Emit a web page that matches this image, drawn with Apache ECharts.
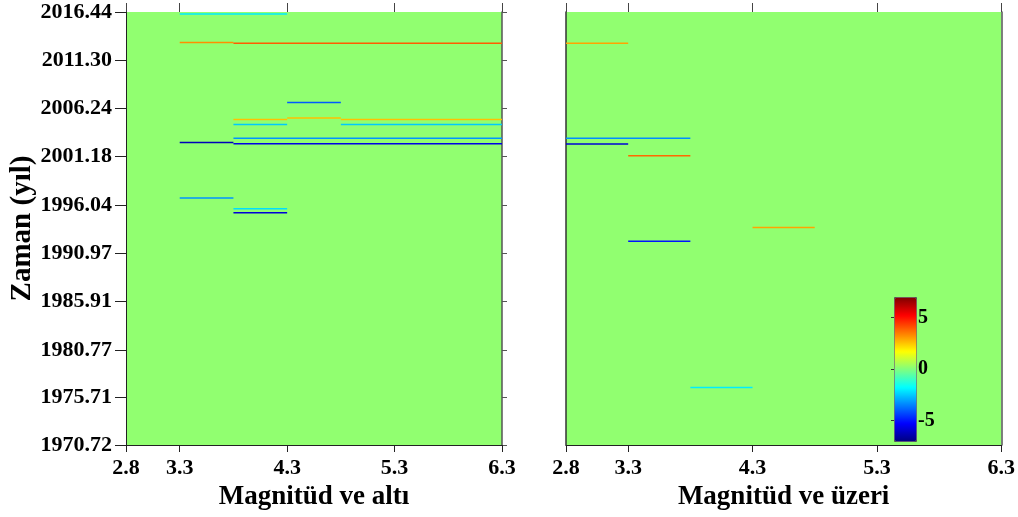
<!DOCTYPE html>
<html>
<head>
<meta charset="utf-8">
<script src="https://cdn.jsdelivr.net/npm/echarts@6/dist/echarts.min.js"></script>
<style>html,body{margin:0;padding:0;background:#fff}#c{width:1018px;height:517px}</style>
</head>
<body>
<div id="c"></div>
<script>
// ---- data ----
const xTicks = [2.8, 3.3, 4.3, 5.3, 6.3];
const yTicks = [1970.72, 1975.71, 1980.77, 1985.91, 1990.97, 1996.04, 2001.18, 2006.24, 2011.30, 2016.44];
const colorbarTicks = [-5, 0, 5];

// left panel: "Magnitüd ve altı"
const leftMagStart = [3.3, 3.3, 3.8, 4.3, 3.8, 4.3, 4.8, 3.8, 4.8, 3.8, 3.3, 3.8, 3.3, 3.8, 3.8];
const leftMagEnd   = [4.3, 3.8, 6.3, 4.8, 4.3, 4.8, 6.3, 4.3, 6.3, 6.3, 3.8, 6.3, 3.8, 4.3, 4.3];
const leftYear     = [2016.23, 2013.23, 2013.13, 2006.88, 2005.08, 2005.25, 2005.08, 2004.56, 2004.56, 2003.11, 2002.65, 2002.54, 1996.79, 1995.66, 1995.24];
const leftValue    = [-2.0, 3.3, 4.0, -4.0, 2.6, 2.6, 2.6, -2.5, -2.5, -3.2, -6.2, -5.6, -3.2, -2.2, -5.8];

// right panel: "Magnitüd ve üzeri"
const rightMagStart = [2.8, 2.8, 2.8, 3.3, 3.3, 4.3, 3.8];
const rightMagEnd   = [3.3, 3.8, 3.3, 3.8, 3.8, 4.8, 4.3];
const rightYear     = [2013.13, 2003.11, 2002.50, 2001.27, 1992.24, 1993.69, 1976.78];
const rightValue    = [3.0, -3.3, -5.8, 3.8, -5.0, 3.0, -2.0];

const cMin = -7, cMax = 7;

// ---- build ----
function rows(a, b, y, v) { return a.map((_, i) => [a[i], b[i], y[i], v[i]]); }
const FONT = 'Liberation Serif';
const lab = { fontFamily: FONT, fontWeight: 'bold', fontSize: 22, color: '#000' };
const jet = ['#00007F', '#0000FF', '#007FFF', '#00FFFF', '#7FFF7F', '#FFFF00', '#FF7F00', '#FF0000', '#7F0000'];

function renderSeg(params, api) {
  const p0 = api.coord([api.value(0), api.value(2)]);
  const p1 = api.coord([api.value(1), api.value(2)]);
  return { type: 'line', shape: { x1: p0[0], y1: p0[1], x2: p1[0], y2: p1[1] },
           style: { stroke: api.visual('color'), lineWidth: 1.5 } };
}

function bottomX(gi, name) {
  return { type: 'value', gridIndex: gi, position: 'bottom', min: 2.8, max: 6.3,
    name: name, nameLocation: 'middle', nameGap: 37,
    nameTextStyle: { fontFamily: FONT, fontWeight: 'bold', fontSize: 27, color: '#000' },
    axisLine: { show: true, onZero: false, lineStyle: { color: '#222', width: 1 } },
    axisTick: { show: true, length: 7, customValues: xTicks, lineStyle: { color: '#222' } },
    axisLabel: Object.assign({ customValues: xTicks, margin: 12, formatter: v => v.toFixed(1) }, lab),
    splitLine: { show: false } };
}
function topX(gi) {
  return { type: 'value', gridIndex: gi, position: 'top', min: 2.8, max: 6.3,
    axisLine: { show: false },
    axisTick: { show: true, length: 9, customValues: xTicks, lineStyle: { color: '#444' } },
    axisLabel: { show: false }, splitLine: { show: false } };
}

const option = {
  backgroundColor: '#fff',
  animation: false,
  grid: [
    { left: 126, top: 12, width: 376, height: 433, show: true, backgroundColor: '#91FF70', borderWidth: 0 },
    { left: 566, top: 12, width: 437, height: 433, show: true, backgroundColor: '#91FF70', borderWidth: 0 },
    { left: 894, top: 297, width: 22, height: 144 }
  ],
  xAxis: [
    bottomX(0, 'Magnitüd ve altı'),
    bottomX(1, 'Magnitüd ve üzeri'),
    topX(0), topX(1),
    { type: 'value', gridIndex: 2, show: false, min: 0, max: 1 }
  ],
  yAxis: [
    { type: 'value', gridIndex: 0, position: 'left', min: 1970.72, max: 2016.44,
      name: 'Zaman (yıl)', nameLocation: 'middle', nameGap: 89, nameRotate: 90,
      nameTextStyle: { fontFamily: FONT, fontWeight: 'bold', fontSize: 29, color: '#000' },
      axisLine: { show: true, onZero: false, lineStyle: { color: '#222' } },
      axisTick: { show: true, length: 11, customValues: yTicks, lineStyle: { color: '#222' } },
      axisLabel: Object.assign({ customValues: yTicks, margin: 14, formatter: v => v.toFixed(2) }, lab),
      splitLine: { show: false } },
    { type: 'value', gridIndex: 1, position: 'left', min: 1970.72, max: 2016.44,
      axisLine: { show: true, onZero: false, lineStyle: { color: '#333', width: 1.5 } },
      axisTick: { show: false }, axisLabel: { show: false }, splitLine: { show: false } },
    { type: 'value', gridIndex: 0, position: 'right', min: 1970.72, max: 2016.44,
      axisLine: { show: true, onZero: false, lineStyle: { color: '#555', width: 1.5 } },
      axisTick: { show: true, length: 5, customValues: yTicks, lineStyle: { color: '#555' } },
      axisLabel: { show: false }, splitLine: { show: false } },
    { type: 'value', gridIndex: 1, position: 'right', min: 1970.72, max: 2016.44,
      axisLine: { show: true, onZero: false, lineStyle: { color: '#555', width: 1.5 } },
      axisTick: { show: false }, axisLabel: { show: false }, splitLine: { show: false } },
    { type: 'value', gridIndex: 2, position: 'right', min: cMin, max: cMax,
      axisLine: { show: false },
      axisTick: { show: true, inside: true, length: 3, customValues: colorbarTicks, lineStyle: { color: '#333' } },
      axisLabel: Object.assign({ customValues: colorbarTicks, margin: 2, align: 'left' }, lab, { fontSize: 20 }),
      splitLine: { show: false } }
  ],
  visualMap: {
    type: 'continuous', min: cMin, max: cMax, dimension: 3, seriesIndex: [0, 1],
    inRange: { color: jet },
    left: 894, top: 297, itemWidth: 22, itemHeight: 144, padding: 0,
    calculable: false, hoverLink: false, text: ['', ''], textGap: 0,
    borderColor: '#555', borderWidth: 1
  },
  series: [
    { type: 'custom', xAxisIndex: 0, yAxisIndex: 0, renderItem: renderSeg,
      encode: { x: [0, 1], y: 2 }, data: rows(leftMagStart, leftMagEnd, leftYear, leftValue), clip: true },
    { type: 'custom', xAxisIndex: 1, yAxisIndex: 1, renderItem: renderSeg,
      encode: { x: [0, 1], y: 2 }, data: rows(rightMagStart, rightMagEnd, rightYear, rightValue), clip: true }
  ]
};
echarts.init(document.getElementById('c'), null, { renderer: 'canvas' }).setOption(option);
</script>
</body>
</html>
